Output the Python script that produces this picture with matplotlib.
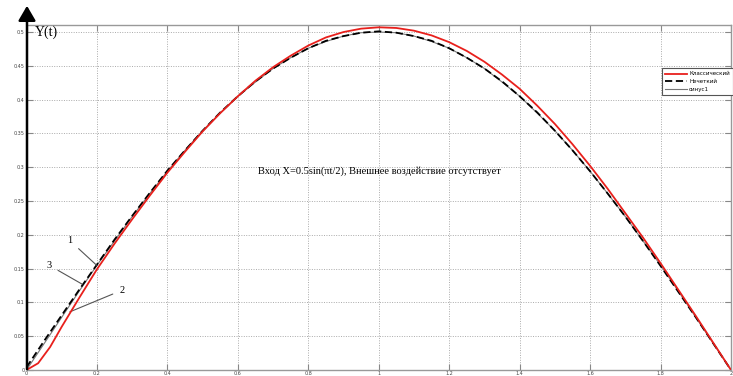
import matplotlib
matplotlib.use("Agg")
import matplotlib.pyplot as plt

t = [0.0, 0.05, 0.1, 0.15, 0.2, 0.25, 0.3, 0.35, 0.4, 0.45, 0.5, 0.55, 0.6, 0.65, 0.7,
     0.75, 0.8, 0.85, 0.9, 0.95, 1.0, 1.05, 1.1, 1.15, 1.2, 1.25, 1.3, 1.35, 1.4, 1.45,
     1.5, 1.55, 1.6, 1.65, 1.7, 1.75, 1.8, 1.85, 1.9, 1.95, 2.0]
t_red = [0.0, 0.033, 0.067, 0.1, 0.15, 0.2, 0.25, 0.3, 0.35, 0.4, 0.45, 0.5, 0.55, 0.6,
         0.65, 0.7, 0.75, 0.8, 0.85, 0.9, 0.95, 1.0, 1.05, 1.1, 1.15, 1.2, 1.25, 1.3, 1.35,
         1.4, 1.45, 1.5, 1.55, 1.6, 1.65, 1.7, 1.75, 1.8, 1.85, 1.9, 1.95, 2.0]
classic = [0.0, 0.010, 0.034, 0.064, 0.107, 0.149, 0.187, 0.223, 0.258, 0.292, 0.323,
           0.353, 0.380, 0.405, 0.428, 0.448, 0.465, 0.480, 0.492, 0.500, 0.505, 0.507,
           0.506, 0.502, 0.495, 0.485, 0.472, 0.456, 0.437, 0.416, 0.391, 0.364, 0.334,
           0.302, 0.268, 0.232, 0.196, 0.158, 0.119, 0.080, 0.040, 0.0]
fuzzy = [0.004, 0.043, 0.081, 0.119, 0.156, 0.193, 0.228, 0.262, 0.295, 0.325, 0.354,
         0.381, 0.405, 0.427, 0.446, 0.462, 0.476, 0.487, 0.494, 0.499, 0.501, 0.499,
         0.494, 0.487, 0.476, 0.462, 0.446, 0.427, 0.405, 0.381, 0.354, 0.325, 0.294,
         0.261, 0.227, 0.191, 0.154, 0.116, 0.078, 0.039, 0.0]
sine = [0.0, 0.039, 0.078, 0.117, 0.155, 0.191, 0.227, 0.261, 0.294, 0.325, 0.354,
        0.380, 0.405, 0.426, 0.446, 0.462, 0.476, 0.486, 0.494, 0.499, 0.500, 0.499,
        0.494, 0.486, 0.476, 0.462, 0.446, 0.426, 0.405, 0.380, 0.354, 0.325, 0.294,
        0.261, 0.227, 0.191, 0.155, 0.117, 0.078, 0.039, 0.0]
legend_labels = ["Классический", "Нечеткий", "синус1"]
xticks = [0, 0.2, 0.4, 0.6, 0.8, 1, 1.2, 1.4, 1.6, 1.8, 2]
xtick_labels = ["0", "0.2", "0.4", "0.6", "0.8", "1", "1.2", "1.4", "1.6", "1.8", "2"]
yticks = [0, 0.05, 0.1, 0.15, 0.2, 0.25, 0.3, 0.35, 0.4, 0.45, 0.5]
ytick_labels = ["0", "0.05", "0.1", "0.15", "0.2", "0.25", "0.3", "0.35", "0.4", "0.45", "0.5"]

W, H = 733, 376
fig = plt.figure(figsize=(W / 100, H / 100), dpi=100)
ax = fig.add_axes([26.5 / W, 1 - 370 / H, (731 - 26.5) / W, (370 - 25) / H])

ax.plot(t, sine, color="#777777", lw=0.8, label=legend_labels[2], zorder=2)
ax.plot(t, fuzzy, color="black", lw=1.3, ls=(0, (4, 2)), label=legend_labels[1], zorder=3)
ax.plot(t_red, classic, color="#e8201c", lw=1.3, label=legend_labels[0], zorder=4)

ax.set_xlim(0, 2)
ax.set_ylim(0, 0.5104)
ax.set_xticks(xticks)
ax.set_xticklabels(xtick_labels)
ax.set_yticks(yticks)
ax.set_yticklabels(ytick_labels)
ax.tick_params(axis="both", direction="in", length=4, width=0.8, color="#888888",
               labelsize=3.5, labelcolor="#444444", pad=1.5, top=True, right=True)
ax.tick_params(axis="x", pad=0.8)
ax.grid(True, color="#aaaaaa", ls=(0, (1, 1.5)), lw=0.7)
for s in ["top", "bottom", "right"]:
    ax.spines[s].set_color("#999999")
    ax.spines[s].set_linewidth(1.0)
ax.spines["left"].set_visible(False)

# y-axis arrow
fig.add_artist(matplotlib.patches.FancyArrowPatch(
    (27 / W, 1 - 372 / H), (27 / W, 1 - 3 / H), transform=fig.transFigure,
    arrowstyle="-|>,head_length=6,head_width=3.5", color="black", lw=1.8,
    mutation_scale=1.5))

ax.text(0.012, 0.98, "Y(t)", transform=ax.transAxes, fontsize=10,
        family="Liberation Serif", va="center", ha="left")

ax.text(0.658, 0.294, "Вход X=0.5sin(πt/2), Внешнее воздействие отсутствует",
        fontsize=7.5, family="Liberation Serif", va="center", ha="left")

# numbered callouts
serif = dict(fontsize=7.5, family="Liberation Serif", va="center", ha="center")
ax.annotate("1", xy=(0.199, 0.155), xytext=(0.124, 0.191),
            arrowprops=dict(arrowstyle="-", color="#555555", lw=0.8, shrinkA=3, shrinkB=0), **serif)
ax.annotate("3", xy=(0.158, 0.127), xytext=(0.064, 0.155),
            arrowprops=dict(arrowstyle="-", color="#555555", lw=0.8, shrinkA=3, shrinkB=0), **serif)
ax.annotate("2", xy=(0.123, 0.086), xytext=(0.271, 0.118),
            arrowprops=dict(arrowstyle="-", color="#555555", lw=0.8, shrinkA=3, shrinkB=0), **serif)

handles, labels = ax.get_legend_handles_labels()
order = [2, 1, 0]
leg = ax.legend([handles[i] for i in order], [labels[i] for i in order],
                loc="upper right", bbox_to_anchor=(1.003, 0.875), fontsize=4,
                frameon=True, fancybox=False, edgecolor="#555555", framealpha=1,
                handlelength=4, borderpad=0.6, labelspacing=0.5, handletextpad=0.3,
                borderaxespad=0)
leg.get_frame().set_linewidth(0.8)

fig.savefig("out.png", dpi=100)
